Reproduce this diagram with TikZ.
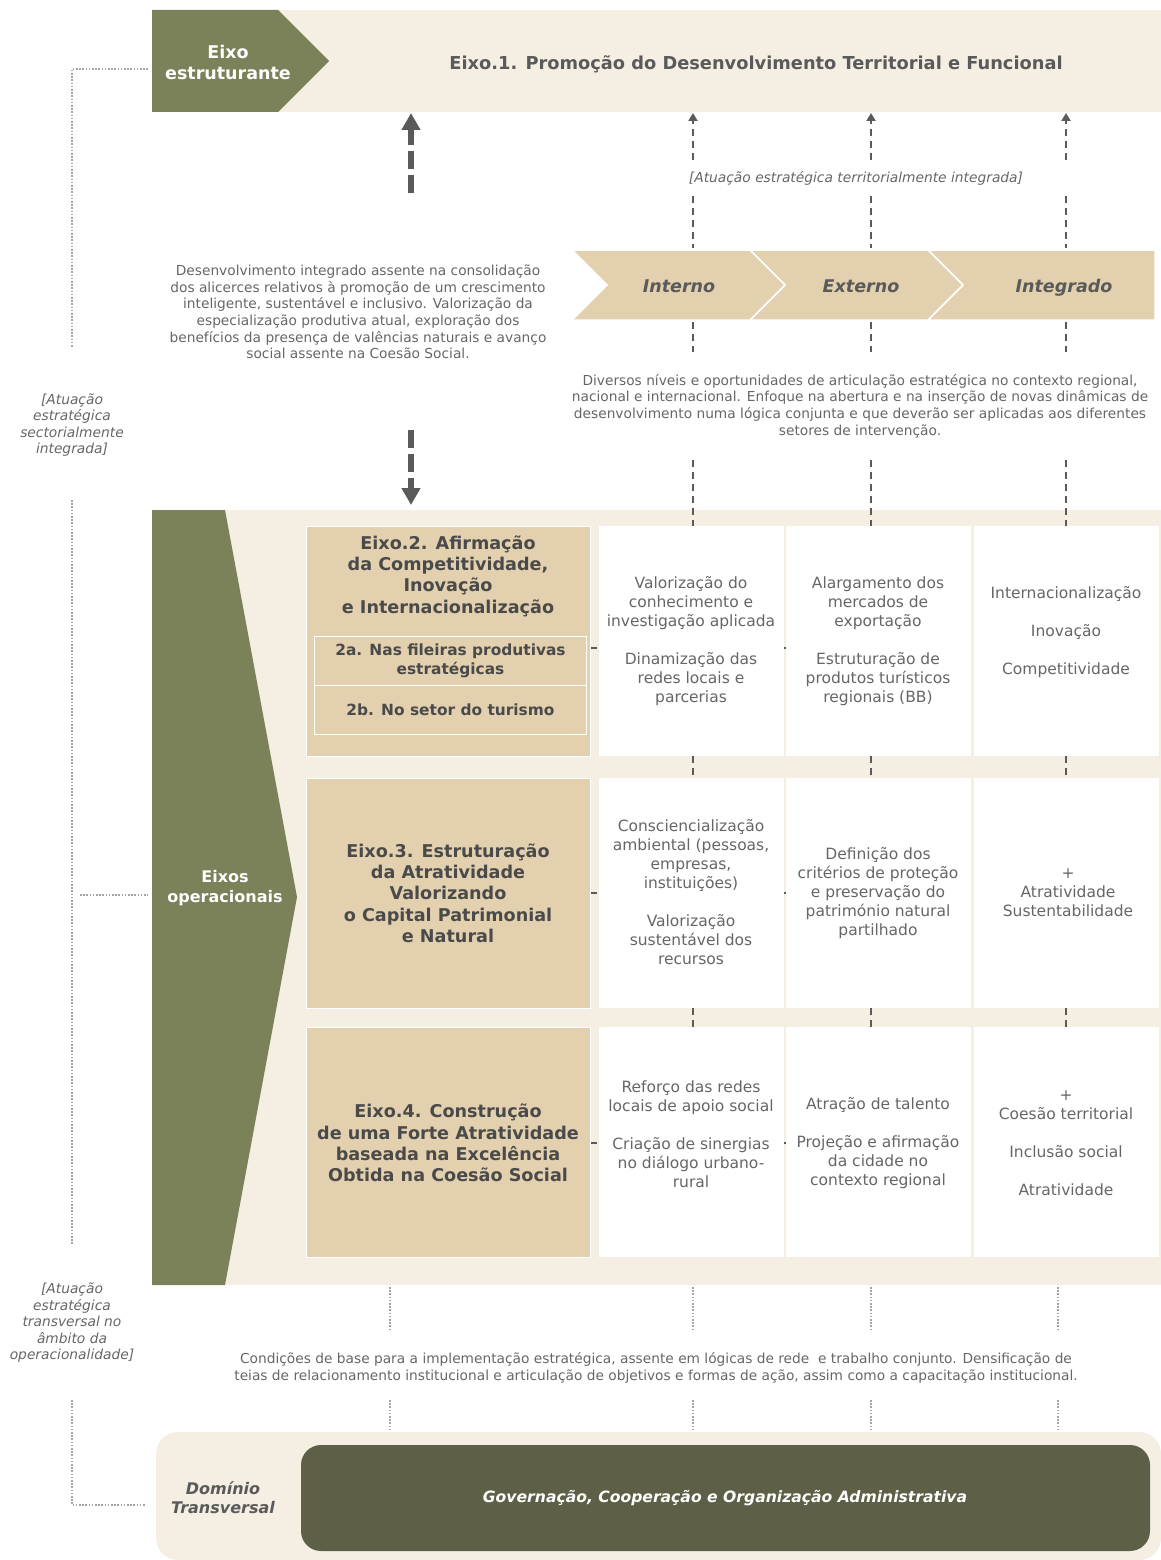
\documentclass[tikz,border=0pt]{standalone}
\usepackage{fontspec}
\setmainfont{DejaVu Sans}
\usepackage{tikz}
\usetikzlibrary{positioning,arrows.meta}

\definecolor{creme}{HTML}{F5EEE3}
\definecolor{bege}{HTML}{E2D0AE}
\definecolor{oliva}{HTML}{7B8159}
\definecolor{olivaesc}{HTML}{5D6046}
\definecolor{cinza}{HTML}{5A5A5A}
\definecolor{cinzatxt}{HTML}{666666}
\definecolor{cinzaesc}{HTML}{4A4A4A}
\definecolor{pontos}{HTML}{A5A5A5}

\tikzset{
  eixobox/.style={fill=bege, draw=white, line width=1pt, minimum width=284pt, minimum height=230pt, anchor=north west, inner sep=0pt},
  subbox/.style={draw=white, line width=1pt, minimum width=272pt, minimum height=49pt, anchor=north west, inner sep=0pt},
  cellbox/.style={fill=white, minimum width=185pt, minimum height=230pt, anchor=north west, inner sep=0pt},
  partxt/.style={text=cinzatxt, align=center, inner sep=0pt, font=\fontsize{13.75}{16.6}\selectfont},
  celltxt/.style={text=cinzatxt, align=center, inner sep=0pt, font=\fontsize{15.5}{19}\selectfont},
  eixotxt/.style={text=cinzaesc, align=center, inner sep=0pt, font=\bfseries\fontsize{17.6}{21.3}\selectfont},
  subtxt/.style={text=cinzaesc, align=center, inner sep=0pt, font=\bfseries\fontsize{15.4}{19}\selectfont},
  notatxt/.style={text=cinzatxt, align=center, inner sep=0pt, font=\itshape\fontsize{13.8}{16.5}\selectfont},
  chevtxt/.style={text=cinza, inner sep=0pt, anchor=base, font=\bfseries\itshape\fontsize{17.5}{21}\selectfont},
  brancotxt/.style={text=white, align=center, inner sep=0pt, font=\bfseries\fontsize{16}{20.5}\selectfont},
  setagrossa/.style={draw=cinza, line width=6.5pt, dash pattern=on 18pt off 6pt, -{Triangle[length=17pt,width=18pt]}},
  setafina/.style={draw=cinza, line width=2.5pt, dash pattern=on 7pt off 5pt, -{Triangle[length=8pt,width=9pt]}},
  tracejado/.style={draw=cinza, line width=2.5pt, dash pattern=on 7pt off 5pt},
  pontilhado/.style={draw=pontos, line width=1.6pt, dash pattern=on 1.6pt off 1.6pt}
}

\begin{document}
\begin{tikzpicture}[x=1pt, y=-1pt]
    \useasboundingbox (0,0) rectangle (1161,1560);

    % eixo estruturante
    \fill[creme] (152,10) rectangle (1161,112);
    \fill[oliva] (152,10) -- (278,10) -- (329,61) -- (278,112) -- (152,112) -- cycle;
    \node[brancotxt, font=\bfseries\fontsize{17.5}{21}\selectfont] (estrut) at (228,62) {Eixo\\estruturante};
    \node[eixotxt, font=\bfseries\fontsize{17.8}{21}\selectfont, text=cinza] (eixo1) at (756,64)
        {Eixo.1. Promoção do Desenvolvimento Territorial e Funcional};
    \coordinate (topo1) at (411,113);

    % setas grossas
    \coordinate (sobe) at (411,193);
    \draw[setagrossa] (sobe) -- (topo1);
    \coordinate (desce) at (411,430);
    \coordinate (baixo1) at (411,505);
    \draw[setagrossa] (desce) -- (baixo1);

    \node[partxt] (desenv) at (358,312) {Desenvolvimento integrado assente na consolidação\\
        dos alicerces relativos à promoção de um crescimento\\
        inteligente, sustentável e inclusivo. Valorização da\\
        especialização produtiva atual, exploração dos\\
        benefícios da presença de valências naturais e avanço\\
        social assente na Coesão Social.};

    \node[notatxt] (territ) at (856,178) {[Atuação estratégica territorialmente integrada]};

    % chevrons
    \filldraw[fill=bege, draw=white, line width=1.5pt] (928,250) -- (1155,250) -- (1155,320) -- (928,320) -- (963,285) -- cycle;
    \filldraw[fill=bege, draw=white, line width=1.5pt] (750,250) -- (928,250) -- (963,285) -- (928,320) -- (750,320) -- (785,285) -- cycle;
    \filldraw[fill=bege, draw=white, line width=1.5pt] (572,250) -- (750,250) -- (785,285) -- (750,320) -- (572,320) -- (607,285) -- cycle;
    \node[chevtxt] (interno) at (679,292) {Interno};
    \node[chevtxt] (externo) at (861,292) {Externo};
    \node[chevtxt] (integrado) at (1064,292) {Integrado};

    \node[partxt] (diversos) at (860,406) {Diversos níveis e oportunidades de articulação estratégica no contexto regional,\\
        nacional e internacional. Enfoque na abertura e na inserção de novas dinâmicas de\\
        desenvolvimento numa lógica conjunta e que deverão ser aplicadas aos diferentes\\
        setores de intervenção.};

    % eixos operacionais
    \fill[creme] (152,510) rectangle (1161,1285);
    \fill[oliva] (152,510) -- (225,510) -- (297,897) -- (225,1285) -- (152,1285) -- cycle;
    \node[brancotxt] (operac) at (225,888) {Eixos\\operacionais};

    % ligacoes horizontais
    \coordinate (h1a) at (590,648);
    \coordinate (h1b) at (975,648);
    \coordinate (h2a) at (590,893);
    \coordinate (h2b) at (975,893);
    \coordinate (h3a) at (590,1143);
    \coordinate (h3b) at (975,1143);
    \draw[tracejado] (h1a) -- (h1b);
    \draw[tracejado] (h2a) -- (h2b);
    \draw[tracejado] (h3a) -- (h3b);

    % colunas
    \foreach \nome/\x in {int/693, ext/871, intg/1066} {
        \coordinate (s-\nome) at (\x,160);
        \draw[setafina] (s-\nome) -- (\x,113);
        \draw[tracejado] (\x,196) -- (\x,248);
        \draw[tracejado] (\x,322) -- (\x,352);
        \draw[tracejado] (\x,460) -- (\x,526);
        \draw[tracejado] (\x,756) -- (\x,778);
        \draw[tracejado] (\x,1008) -- (\x,1027);
    }

    % row 1
    \node[eixobox] (e2) at (306,526) {};
    \node[eixotxt] (t2) at (448,576) {Eixo.2. Afirmação\\da Competitividade,\\Inovação\\e Internacionalização};
    \node[subbox] (s2a) at (314,636) {};
    \node[subbox] (s2b) at (314,685) {};
    \node[subtxt] at (s2a) {2a. Nas fileiras produtivas\\estratégicas};
    \node[subtxt] at (s2b) {2b. No setor do turismo};
    \node[cellbox] (c11) at (599,526) {};
    \node[cellbox] (c12) at (786,526) {};
    \node[cellbox] (c13) at (974,526) {};
    \node[celltxt] at (691,641) {Valorização do\\conhecimento e\\investigação aplicada\\[19pt]Dinamização das\\redes locais e\\parcerias};
    \node[celltxt] at (878,641) {Alargamento dos\\mercados de\\exportação\\[19pt]Estruturação de\\produtos turísticos\\regionais (BB)};
    \node[celltxt] at (1066,632) {Internacionalização\\[19pt]Inovação\\[19pt]Competitividade};

    % row 2
    \node[eixobox] (e3) at (306,778) {};
    \node[eixotxt] (t3) at (448,893) {Eixo.3. Estruturação\\da Atratividade\\Valorizando\\o Capital Patrimonial\\e Natural};
    \node[cellbox] (c21) at (599,778) {};
    \node[cellbox] (c22) at (786,778) {};
    \node[cellbox] (c23) at (974,778) {};
    \node[celltxt] at (691,892) {Consciencialização\\ambiental (pessoas,\\empresas,\\instituições)\\[19pt]Valorização\\sustentável dos\\recursos};
    \node[celltxt] at (878,893) {Definição dos\\critérios de proteção\\e preservação do\\património natural\\partilhado};
    \node[celltxt] at (1068,893) {+\\Atratividade\\Sustentabilidade};

    % row 3
    \node[eixobox] (e4) at (306,1027) {};
    \node[eixotxt] (t4) at (448,1143) {Eixo.4. Construção\\de uma Forte Atratividade\\baseada na Excelência\\Obtida na Coesão Social};
    \node[cellbox] (c31) at (599,1027) {};
    \node[cellbox] (c32) at (786,1027) {};
    \node[cellbox] (c33) at (974,1027) {};
    \node[celltxt] at (691,1134) {Reforço das redes\\locais de apoio social\\[19pt]Criação de sinergias\\no diálogo urbano-\\rural};
    \node[celltxt] at (878,1143) {Atração de talento\\[19pt]Projeção e afirmação\\da cidade no\\contexto regional};
    \node[celltxt] at (1066,1143) {+\\Coesão territorial\\[19pt]Inclusão social\\[19pt]Atratividade};

    % dominio transversal
    \foreach \x in {390, 693, 871, 1058} {
        \draw[pontilhado] (\x,1287) -- (\x,1330);
        \draw[pontilhado] (\x,1400) -- (\x,1432);
    }
    \node[partxt] (condicoes) at (656,1368) {Condições de base para a implementação estratégica, assente em lógicas de rede\ \ e trabalho conjunto. Densificação de\\
        teias de relacionamento institucional e articulação de objetivos e formas de ação, assim como a capacitação institucional.};
    \fill[creme, rounded corners=22pt] (156,1432) rectangle (1161,1560);
    \fill[olivaesc, rounded corners=20pt] (301,1445) rectangle (1150,1551);
    \node[brancotxt, font=\bfseries\itshape\fontsize{15.6}{20}\selectfont] (gov) at (725,1498)
        {Governação, Cooperação e Organização Administrativa};
    \node[brancotxt, text=cinza, font=\bfseries\itshape\fontsize{16}{19}\selectfont] (dominio) at (223,1498)
        {Domínio\\Transversal};

    % atuacao lateral
    \draw[pontilhado] (148,69) -- (72,69) -- (72,347);
    \node[notatxt] (setor) at (72,425) {[Atuação\\estratégica\\sectorialmente\\integrada]};
    \draw[pontilhado] (72,500) -- (72,1245);
    \draw[pontilhado] (80,895) -- (148,895);
    \node[notatxt] (transv) at (72,1323) {[Atuação\\estratégica\\transversal no\\âmbito da\\operacionalidade]};
    \draw[pontilhado] (72,1400) -- (72,1505) -- (145,1505);
\end{tikzpicture}
\end{document}
